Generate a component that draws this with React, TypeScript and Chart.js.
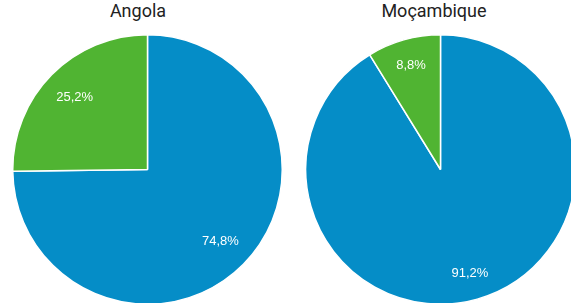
import React, { useEffect, useRef } from "react";
import { Chart, registerables } from "chart.js";

Chart.register(...registerables);

const countries = ["Angola", "Moçambique"];
const sliceLabels = ["A", "B"];
const angolaValues = [74.8, 25.2];
const mocambiqueValues = [91.2, 8.8];
const seriesValues = [angolaValues, mocambiqueValues];
const colors = ["#058DC7", "#50B432"];

const labelPlugin = {
  id: "sliceLabels",
  afterDatasetsDraw(chart: any) {
    const ctx = chart.ctx;
    const meta = chart.getDatasetMeta(0);
    const data = chart.data.datasets[0].data as number[];
    const factor = chart.options.plugins.sliceLabels?.factor ?? 0.78;
    ctx.save();
    ctx.fillStyle = "#ffffff";
    ctx.font = '13px "Liberation Sans", Arial, sans-serif';
    ctx.textAlign = "center";
    ctx.textBaseline = "middle";
    meta.data.forEach((arc: any, i: number) => {
      const p = arc.getProps(["x", "y", "startAngle", "endAngle", "outerRadius"], true);
      const mid = (p.startAngle + p.endAngle) / 2;
      const r = p.outerRadius * factor;
      const txt = data[i].toFixed(1).replace(".", ",") + "%";
      ctx.fillText(txt, p.x + Math.cos(mid) * r, p.y + Math.sin(mid) * r);
    });
    ctx.restore();
  },
};

function PieChart({ values, factor }: { values: number[]; factor: number }) {
  const ref = useRef<HTMLCanvasElement>(null);
  useEffect(() => {
    if (!ref.current) return;
    const chart = new Chart(ref.current, {
      type: "pie",
      data: {
        labels: sliceLabels,
        datasets: [
          {
            data: values,
            backgroundColor: colors,
            borderColor: "#ffffff",
            borderWidth: 1.5,
          },
        ],
      },
      options: {
        responsive: false,
        animation: false,
        layout: { padding: 0 },
        plugins: {
          legend: { display: false },
          tooltip: { enabled: false },
          title: { display: false },
          sliceLabels: { factor },
        } as any,
      },
      plugins: [labelPlugin],
    });
    return () => chart.destroy();
  }, [values, factor]);
  return <canvas ref={ref} width={271} height={271} style={{ display: "block" }} />;
}

export default function App() {
  const titleStyle: React.CSSProperties = {
    position: "absolute",
    top: 0,
    width: 200,
    textAlign: "center",
    fontFamily: "Roboto, sans-serif",
    fontSize: 18,
    fontWeight: 400,
    lineHeight: "21px",
    color: "#222222",
    whiteSpace: "nowrap",
  };
  return (
    <div
      style={{
        position: "absolute",
        left: 0,
        top: 0,
        width: 571,
        height: 303,
        overflow: "hidden",
        background: "#ffffff",
      }}
    >
      <div style={{ ...titleStyle, left: 138 - 100 }}>{countries[0]}</div>
      <div style={{ ...titleStyle, left: 434 - 100 }}>{countries[1]}</div>
      <div style={{ position: "absolute", left: 12, top: 34 }}>
        <PieChart values={seriesValues[0]} factor={0.76} />
      </div>
      <div style={{ position: "absolute", left: 305, top: 34 }}>
        <PieChart values={seriesValues[1]} factor={0.8} />
      </div>
    </div>
  );
}
